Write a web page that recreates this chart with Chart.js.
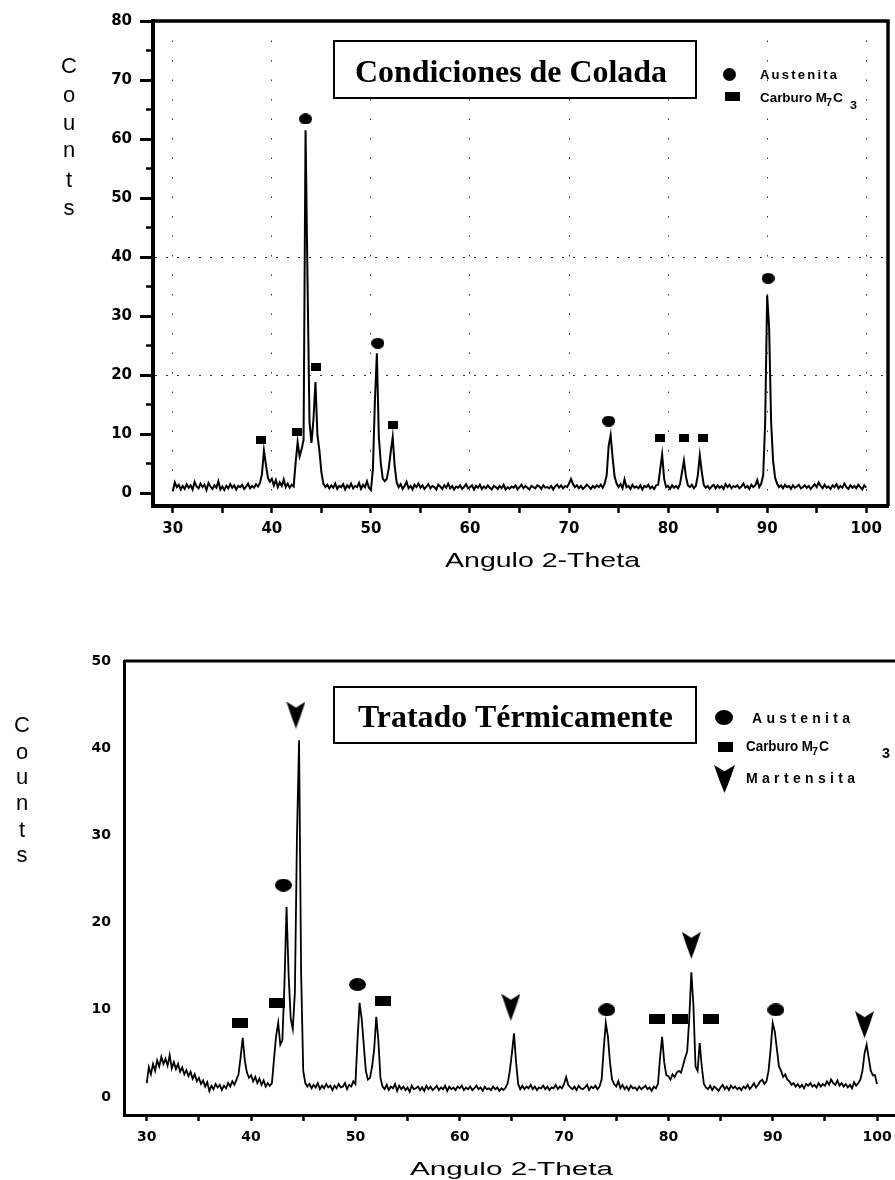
<!DOCTYPE html>
<html>
<head>
<meta charset="utf-8">
<title>Difractogramas</title>
<script src="https://cdn.jsdelivr.net/npm/chart.js@4.4.0/dist/chart.umd.min.js"></script>
<style>
    html, body { margin: 0; padding: 0; background: #fff; }
    #wrap { position: relative; width: 895px; height: 1180px; overflow: hidden; background: #fff; }
    #topChart { position: absolute; left: 0; top: 0; }
    #bottomChart { position: absolute; left: 0; top: 600px; }
</style>
</head>
<body>
<div id="wrap">
    <canvas id="topChart" width="895" height="600"></canvas>
    <canvas id="bottomChart" width="910" height="580"></canvas>
</div>
<script>
// scan grid (2-theta, degrees)
var angleStart = 30;
var angleStep = 0.2;

// Condiciones de Colada - counts, 5 readings per degree (30.0 ... 100.0)
var countsColada = [
    0.3, 1.8, 1.0, 1.4, 0.6,   1.2, 0.7, 1.5, 0.9, 1.3,
    0.6, 1.9, 1.1, 0.8, 1.6,   1.0, 1.4, 0.5, 1.7, 1.1,
    0.7, 1.3, 0.9, 2.0, 0.6,   1.1, 0.5, 1.2, 0.8, 1.5,
    0.9, 1.3, 0.6, 1.2, 1.0,   1.4, 0.7, 1.1, 1.6, 0.8,
    1.2, 0.9, 1.5, 1.1, 1.7,   3.2, 7.2, 4.8, 2.6, 1.9,
    2.4, 1.3, 2.2, 1.0, 1.8,   1.2, 2.3, 1.0, 1.6, 0.9,
    1.4, 1.1, 5.2, 8.6, 6.2,   7.4, 9.0, 61.5, 36.0, 12.0,
    8.5, 12.5, 18.8, 9.8, 7.2, 3.5, 1.6, 1.0, 1.4, 0.8,
    1.3, 0.9, 1.6, 0.7, 1.2,   1.0, 1.5, 0.6, 1.3, 0.9,
    1.6, 0.8, 1.2, 1.0, 1.7,   0.7, 1.4, 1.0, 2.0, 0.9,
    0.5, 4.0, 15.5, 23.7, 9.5, 5.0, 2.4, 2.0, 2.4, 4.2,
    7.0, 9.5, 4.5, 1.8, 1.0,   1.5, 0.7, 1.2, 1.9, 0.8,
    1.2, 0.6, 1.4, 1.0, 1.6,   0.9, 1.3, 0.7, 1.1, 1.5,
    0.8, 1.2, 1.0, 0.6, 1.4,   1.1, 0.7, 1.3, 0.9, 1.6,
    0.8, 1.2, 0.6, 1.1, 0.9,   1.3, 0.7, 1.0, 1.5, 0.8,
    1.0, 1.3, 0.6, 1.2, 0.9,   1.4, 0.7, 1.1, 0.8, 1.3,
    0.9, 0.6, 1.2, 1.0, 0.7,   1.2, 0.8, 1.4, 0.6, 1.0,
    0.7, 1.1, 0.9, 1.3, 0.6,   1.0, 1.4, 0.8, 1.2, 0.9,
    0.6, 1.2, 1.0, 0.8, 1.3,   1.1, 0.7, 1.3, 0.9, 1.0,
    0.8, 1.2, 0.6, 1.1, 1.4,   0.9, 1.3, 0.8, 1.2, 1.0,
    1.6, 2.4, 1.5, 1.0, 1.3,   0.8, 1.2, 0.7, 1.0, 1.4,
    1.1, 0.7, 1.2, 0.9, 1.3,   1.0, 1.4, 0.9, 1.6, 3.0,
    8.0, 9.8, 6.0, 2.8, 1.6,   1.0, 1.5, 0.8, 2.3, 1.0,
    1.2, 0.7, 1.4, 0.9, 1.1,   0.8, 1.3, 0.6, 1.2, 1.0,
    1.4, 0.8, 1.1, 0.7, 1.3,   1.4, 4.0, 6.5, 2.4, 1.0,
    1.2, 0.7, 1.3, 0.9, 1.2,   0.8, 1.5, 3.5, 5.5, 2.8,
    1.3, 1.0, 1.4, 0.8, 1.2,   3.0, 6.4, 3.6, 1.4, 0.9,
    1.2, 0.7, 1.1, 1.4, 0.8,   1.3, 0.9, 1.2, 0.7, 1.5,
    1.0, 1.4, 0.8, 1.2, 1.0,   1.3, 0.8, 1.1, 1.6, 0.9,
    1.2, 0.7, 1.4, 1.0, 1.3,   2.2, 1.0, 1.6, 3.0, 12.0,
    33.5, 28.0, 12.0, 5.5, 2.6, 1.6, 1.0, 1.3, 0.8, 1.4,
    1.0, 1.2, 0.7, 1.3, 0.9,   1.1, 1.4, 0.8, 1.0, 1.3,
    0.9, 1.2, 0.7, 1.1, 1.5,   1.0, 1.8, 1.2, 0.8, 1.4,
    0.9, 1.1, 0.7, 1.3, 1.0,   1.5, 0.8, 1.2, 0.9, 1.6,
    1.0, 0.7, 1.3, 0.9, 1.2,   0.8, 1.4, 1.0, 0.6, 1.3,
    0.9
];

// Tratado Termicamente - counts, same grid
var countsTratado = [
    1.6, 3.4, 2.6, 3.8, 3.0,   4.2, 3.5, 4.6, 3.8, 4.4,
    3.6, 4.8, 3.3, 4.0, 3.2,   3.8, 2.9, 3.4, 2.6, 3.1,
    2.4, 2.9, 2.1, 2.6, 1.8,   2.2, 1.5, 1.9, 1.2, 1.7,
    0.7, 1.3, 0.9, 1.5, 1.1,   1.4, 0.8, 1.3, 1.0, 1.6,
    1.2, 1.8, 1.4, 2.0, 2.6,   4.6, 6.8, 4.2, 2.8, 2.2,
    2.5, 1.8, 2.3, 1.6, 2.1,   1.4, 1.9, 1.2, 1.6, 1.3,
    1.6, 4.4, 7.0, 8.5, 6.0,   6.5, 13.0, 21.8, 14.0, 9.0,
    7.8, 12.0, 30.0, 40.9, 14.0, 3.0, 1.6, 1.2, 1.5, 1.0,
    1.4, 1.1, 1.6, 0.9, 1.3,   1.0, 1.5, 1.1, 1.3, 0.8,
    1.3, 1.0, 1.5, 1.1, 1.2,   1.6, 0.9, 1.4, 1.2, 1.8,
    1.5, 6.5, 10.8, 9.0, 6.0,  3.0, 2.0, 2.2, 3.5, 5.5,
    9.2, 6.5, 2.2, 1.2, 0.9,   1.4, 0.8, 1.2, 1.0, 1.5,
    0.7, 1.3, 0.9, 1.2, 0.8,   1.1, 0.6, 1.3, 0.9, 1.0,
    1.2, 0.8, 1.1, 0.7, 1.3,   0.9, 1.2, 0.8, 1.0, 1.3,
    0.8, 1.1, 0.9, 1.3, 0.7,   1.2, 0.9, 1.1, 0.8, 1.2,
    1.0, 1.3, 0.8, 1.1, 0.9,   1.2, 0.8, 1.0, 1.3, 0.9,
    1.1, 0.7, 1.2, 0.9, 1.0,   0.8, 1.2, 0.9, 1.1, 0.7,
    1.0, 0.8, 1.1, 1.6, 3.0,   5.0, 7.3, 4.0, 1.5, 0.9,
    1.3, 0.9, 1.2, 1.0, 1.4,   0.9, 1.2, 0.8, 1.1, 1.0,
    1.3, 0.9, 1.2, 0.8, 1.1,   1.0, 1.4, 0.9, 1.2, 1.0,
    1.5, 2.3, 1.4, 1.1, 0.9,   1.2, 0.8, 1.3, 1.0, 0.9,
    1.1, 1.4, 0.8, 1.2, 1.0,   1.3, 0.9, 1.2, 2.0, 5.5,
    8.5, 7.0, 4.0, 2.0, 1.5,   1.2, 1.8, 1.0, 1.4, 0.9,
    1.2, 0.8, 1.3, 1.0, 1.1,   0.8, 1.2, 0.9, 1.1, 1.3,
    0.9, 1.1, 0.7, 1.2, 1.0,   1.5, 4.5, 6.9, 4.0, 2.5,
    2.4, 2.0, 2.6, 2.3, 2.8,   3.0, 2.8, 3.6, 4.5, 5.2,
    9.0, 14.3, 10.5, 3.5, 3.0, 6.2, 3.5, 1.5, 1.1, 0.9,
    1.3, 0.8, 1.2, 1.0, 0.7,   1.1, 1.4, 0.9, 1.2, 0.8,
    1.3, 1.0, 1.2, 0.9, 1.1,   0.8, 1.2, 1.0, 1.4, 0.9,
    1.2, 1.6, 1.1, 1.4, 1.8,   2.0, 1.5, 1.8, 3.0, 5.5,
    8.5, 7.5, 5.5, 3.5, 3.0,   2.3, 2.6, 2.0, 1.8, 1.4,
    1.6, 1.2, 1.5, 1.1, 1.4,   1.0, 1.5, 1.3, 1.6, 1.2,
    1.4, 1.1, 1.6, 1.2, 1.5,   1.3, 1.8, 1.4, 2.0, 1.6,
    1.4, 1.9, 1.3, 1.6, 1.2,   1.5, 1.1, 1.4, 1.0, 1.7,
    1.3, 1.6, 2.0, 3.0, 5.0,   6.0, 4.5, 3.0, 2.5, 2.5,
    1.5
];

// phase labels (angle, height of the symbol)
var austenitaColadaX = [43.4, 50.7, 74.0, 90.1];
var austenitaColadaY = [63.4, 25.4, 12.2, 36.4];
var carburoColadaX = [38.9, 42.5, 44.5, 52.2, 79.2, 81.6, 83.5];
var carburoColadaY = [9.0, 10.3, 21.3, 11.5, 9.3, 9.3, 9.3];

var austenitaTratadoX = [43.1, 50.2, 74.1, 90.3];
var austenitaTratadoY = [24.3, 12.9, 10.0, 10.0];
var carburoTratadoX = [38.9, 42.5, 52.6, 78.9, 81.1, 84.1];
var carburoTratadoY = [8.5, 10.8, 11.0, 9.0, 9.0, 9.0];
var martensitaTratadoX = [44.3, 64.9, 82.2, 98.8];
var martensitaTratadoY = [43.8, 10.3, 17.4, 8.3];

// ticks
var angleTicks = [30, 35, 40, 45, 50, 55, 60, 65, 70, 75, 80, 85, 90, 95, 100];
var countTicksColada = [0, 10, 20, 30, 40, 50, 60, 70, 80];
var countMinorColada = [5, 15, 25, 35, 45, 55, 65, 75];
var countTicksTratado = [0, 10, 20, 30, 40, 50];

function toScan(counts) {
    var pts = [];
    for (var i = 0; i < counts.length; i++) {
        pts.push({ x: +(angleStart + i * angleStep).toFixed(1), y: counts[i] });
    }
    return pts;
}

function toXY(xs, ys) {
    return xs.map(function (x, i) { return { x: x, y: ys[i] }; });
}

function makeMarker(kind, w, h) {
    var c = document.createElement('canvas');
    c.width = w;
    c.height = h;
    var g = c.getContext('2d');
    g.fillStyle = '#000';
    g.beginPath();
    if (kind === 'circle') {
        g.ellipse(w / 2, h / 2, w / 2, h / 2, 0, 0, Math.PI * 2);
    } else if (kind === 'square') {
        g.rect(0, 0, w, h);
    } else {
        // arrow head pointing down, notched on top
        g.moveTo(0, 0);
        g.lineTo(w / 2, h * 0.22);
        g.lineTo(w, 0);
        g.lineTo(w * 0.74, h * 0.55);
        g.lineTo(w / 2, h);
        g.lineTo(w * 0.26, h * 0.55);
        g.closePath();
    }
    g.fill();
    return c;
}

// draw text stretched or letter-spaced to a given width
function fitText(ctx, t, x, y, font, w, mode) {
    ctx.font = font;
    var nat = ctx.measureText(t).width;
    if (mode === 'space' && w > nat && t.length > 1) {
        var gap = (w - nat) / (t.length - 1);
        var cx = x;
        for (var i = 0; i < t.length; i++) {
            ctx.fillText(t[i], cx, y);
            cx += ctx.measureText(t[i]).width + gap;
        }
    } else {
        ctx.save();
        ctx.translate(x, y);
        ctx.scale(w / nat, 1);
        ctx.fillText(t, 0, 0);
        ctx.restore();
    }
}

var legendFont = '"Liberation Sans", Arial, sans-serif';
var titleFont = '"Liberation Serif", "Times New Roman", serif';

var decorations = {
    topChart: {
        frameWidth: 3.5,
        frameRight: true,
        minorY: countMinorColada,
        counts: { x: 69, ys: [73, 102, 130, 157, 187, 215], font: '22px ' + legendFont },
        box: { x: 334, y: 41, w: 362, h: 57 },
        legend: [
            { img: makeMarker('circle', 13, 13), x: 729, y: 74 },
            { img: makeMarker('square', 15, 9), x: 732.5, y: 96 }
        ],
        texts: [
            { t: 'Condiciones de Colada', x: 355, y: 81.5, font: 'bold 32px ' + titleFont, w: 312 },
            { t: 'Austenita', x: 760, y: 79, font: 'bold 13px ' + legendFont, w: 77, mode: 'space' },
            { t: 'Carburo M', x: 760, y: 102, font: 'bold 13px ' + legendFont, w: 67 },
            { t: '7', x: 826, y: 106, font: 'bold 10px ' + legendFont, w: 6 },
            { t: 'C', x: 833, y: 102, font: 'bold 13px ' + legendFont, w: 10 },
            { t: '3', x: 850, y: 109, font: 'bold 11px ' + legendFont, w: 7 },
            { t: 'Angulo 2-Theta', x: 445, y: 567, font: '21px ' + legendFont, w: 195 }
        ]
    },
    bottomChart: {
        frameWidth: 3,
        frameRight: false,
        minorY: [],
        counts: { x: 22, ys: [132, 159, 184, 210, 237, 262], font: '22px ' + legendFont },
        box: { x: 334, y: 87, w: 362, h: 56 },
        legend: [
            { img: makeMarker('circle', 18, 15), x: 724, y: 117.5 },
            { img: makeMarker('square', 15, 10), x: 725.5, y: 146.5 },
            { img: makeMarker('arrow', 21, 28), x: 724.5, y: 179 }
        ],
        texts: [
            { t: 'Tratado Térmicamente', x: 358, y: 127, font: 'bold 32px ' + titleFont, w: 315 },
            { t: 'Austenita', x: 752, y: 123, font: 'bold 14px ' + legendFont, w: 98, mode: 'space' },
            { t: 'Carburo M', x: 746, y: 151, font: 'bold 14px ' + legendFont, w: 67, mode: 'space' },
            { t: '7', x: 812, y: 155, font: 'bold 10px ' + legendFont, w: 6 },
            { t: 'C', x: 819, y: 151, font: 'bold 14px ' + legendFont, w: 10 },
            { t: '3', x: 882, y: 158, font: 'bold 14px ' + legendFont, w: 8 },
            { t: 'Martensita', x: 746, y: 183, font: 'bold 14px ' + legendFont, w: 109, mode: 'space' },
            { t: 'Angulo 2-Theta', x: 410, y: 575, font: '18px ' + legendFont, w: 203 }
        ]
    }
};

var decorPlugin = {
    id: 'decor',
    afterDraw: function (chart) {
        var d = decorations[chart.canvas.id];
        var ctx = chart.ctx;
        var area = chart.chartArea;
        ctx.save();
        ctx.strokeStyle = '#000';
        ctx.fillStyle = '#000';

        // top and right side of the frame
        ctx.lineWidth = d.frameWidth;
        ctx.beginPath();
        ctx.moveTo(area.left, area.top);
        ctx.lineTo(area.right, area.top);
        if (d.frameRight) ctx.lineTo(area.right, area.bottom);
        ctx.stroke();

        // short minor ticks on the count axis
        ctx.lineWidth = 2.5;
        d.minorY.forEach(function (v) {
            var py = chart.scales.y.getPixelForValue(v);
            ctx.beginPath();
            ctx.moveTo(area.left - 7, py);
            ctx.lineTo(area.left, py);
            ctx.stroke();
        });

        // stacked "Counts"
        ctx.font = d.counts.font;
        ctx.textAlign = 'center';
        ctx.textBaseline = 'alphabetic';
        'Counts'.split('').forEach(function (ch, i) {
            ctx.fillText(ch, d.counts.x, d.counts.ys[i]);
        });
        ctx.textAlign = 'left';

        // title box
        ctx.fillStyle = '#fff';
        ctx.fillRect(d.box.x, d.box.y, d.box.w, d.box.h);
        ctx.fillStyle = '#000';
        ctx.lineWidth = 2;
        ctx.strokeRect(d.box.x, d.box.y, d.box.w, d.box.h);

        // legend symbols
        d.legend.forEach(function (s) {
            ctx.drawImage(s.img, Math.round(s.x - s.img.width / 2), Math.round(s.y - s.img.height / 2));
        });

        d.texts.forEach(function (t) {
            fitText(ctx, t.t, t.x, t.y, t.font, t.w, t.mode);
        });
        ctx.restore();
    }
};

function tickFont(size) {
    return { family: 'DejaVu Sans', size: size, weight: 'bold' };
}

function setTicks(values) {
    return function (axis) {
        axis.ticks = values.map(function (v) { return { value: v }; });
    };
}

// Condiciones de Colada
new Chart(document.getElementById('topChart'), {
    type: 'line',
    data: {
        datasets: [{
            data: toXY(austenitaColadaX, austenitaColadaY),
            showLine: false,
            pointStyle: makeMarker('circle', 13, 11),
            pointRadius: 6
        }, {
            data: toXY(carburoColadaX, carburoColadaY),
            showLine: false,
            pointStyle: makeMarker('square', 10, 8),
            pointRadius: 6
        }, {
            data: toScan(countsColada),
            borderColor: '#000',
            borderWidth: 2,
            pointRadius: 0,
            tension: 0
        }]
    },
    options: {
        responsive: false,
        animation: false,
        devicePixelRatio: 1,
        layout: { padding: { left: 0, top: 21, right: 2, bottom: 0 } },
        plugins: { legend: { display: false }, tooltip: { enabled: false } },
        scales: {
            x: {
                type: 'linear',
                min: 28,
                max: 102.2,
                afterBuildTicks: setTicks(angleTicks),
                afterFit: function (axis) { axis.height = 94; },
                grid: {
                    color: function (c) { return c.tick && c.tick.value % 10 === 0 ? '#333' : 'transparent'; },
                    lineWidth: 1,
                    tickLength: 7,
                    tickColor: '#000',
                    tickWidth: 2.5
                },
                border: { color: '#000', width: 4, dash: [1.5, 18] },
                ticks: {
                    autoSkip: false,
                    maxRotation: 0,
                    padding: 7,
                    color: '#000',
                    font: tickFont(15),
                    callback: function (v) { return v % 10 === 0 ? v : ''; }
                }
            },
            y: {
                min: -2.2,
                max: 80,
                afterBuildTicks: setTicks(countTicksColada),
                afterFit: function (axis) { axis.width = 153; },
                grid: {
                    color: function (c) { return c.tick && (c.tick.value === 20 || c.tick.value === 40) ? '#333' : 'transparent'; },
                    lineWidth: 1,
                    tickLength: 13,
                    tickColor: '#000',
                    tickWidth: 3
                },
                border: { color: '#000', width: 4, dash: [2, 9] },
                ticks: { padding: 8, color: '#000', font: tickFont(15) }
            }
        }
    },
    plugins: [decorPlugin]
});

// Tratado Termicamente
new Chart(document.getElementById('bottomChart'), {
    type: 'line',
    data: {
        datasets: [{
            data: toXY(austenitaTratadoX, austenitaTratadoY),
            showLine: false,
            pointStyle: makeMarker('circle', 17, 13),
            pointRadius: 6
        }, {
            data: toXY(carburoTratadoX, carburoTratadoY),
            showLine: false,
            pointStyle: makeMarker('square', 16, 10),
            pointRadius: 6
        }, {
            data: toXY(martensitaTratadoX, martensitaTratadoY),
            showLine: false,
            pointStyle: makeMarker('arrow', 19, 27),
            pointRadius: 6
        }, {
            data: toScan(countsTratado),
            borderColor: '#000',
            borderWidth: 1.8,
            pointRadius: 0,
            tension: 0
        }]
    },
    options: {
        responsive: false,
        animation: false,
        devicePixelRatio: 1,
        layout: { padding: { left: 0, top: 61, right: 10, bottom: 0 } },
        plugins: { legend: { display: false }, tooltip: { enabled: false } },
        scales: {
            x: {
                type: 'linear',
                min: 27.82,
                max: 102.2,
                afterBuildTicks: setTicks(angleTicks),
                afterFit: function (axis) { axis.height = 65; },
                grid: {
                    drawOnChartArea: false,
                    tickLength: 6,
                    tickColor: '#000',
                    tickWidth: 2.5
                },
                border: { color: '#000', width: 3 },
                ticks: {
                    autoSkip: false,
                    maxRotation: 0,
                    padding: 8,
                    color: '#000',
                    font: tickFont(14),
                    callback: function (v) { return v % 10 === 0 ? v : ''; }
                }
            },
            y: {
                min: -2.06,
                max: 50,
                afterBuildTicks: setTicks(countTicksTratado),
                afterFit: function (axis) { axis.width = 124; },
                grid: { drawOnChartArea: false, drawTicks: false },
                border: { color: '#000', width: 3 },
                ticks: { padding: 13, color: '#000', font: tickFont(14) }
            }
        }
    },
    plugins: [decorPlugin]
});
</script>
</body>
</html>
